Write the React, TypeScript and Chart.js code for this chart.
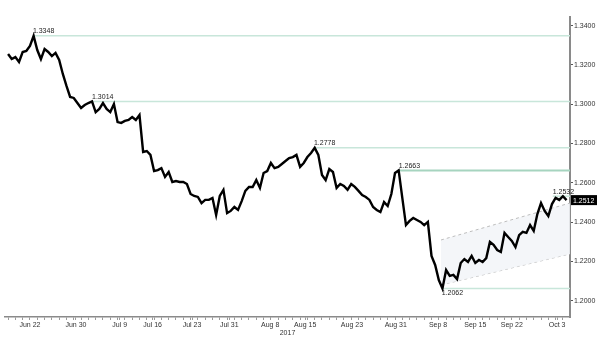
import React, { useEffect, useRef } from "react";
import { Chart, registerables } from "chart.js";

Chart.register(...registerables);

// x unit: trading day, 0 = Jun 22 2017; closes sampled every half trading day
const firstDay = -3;
const dayStep = 0.5;
const closes = [
  1.3256, 1.3230, 1.3240, 1.3215, 1.3266, 1.3271, 1.3297, 1.3348, 1.3276, 1.3230,
  1.3281, 1.3266, 1.3245, 1.3261, 1.3225, 1.3154, 1.3093, 1.3037, 1.3032, 1.3006,
  1.2981, 1.2996, 1.3006, 1.3014, 1.2960, 1.2976, 1.3006, 1.2976, 1.2960, 1.3001,
  1.2909, 1.2905, 1.2915, 1.2920, 1.2935, 1.2920, 1.2945, 1.2757, 1.2762, 1.2742,
  1.2660, 1.2665, 1.2675, 1.2630, 1.2655, 1.2604, 1.2609, 1.2604, 1.2604, 1.2594,
  1.2543, 1.2533, 1.2528, 1.2497, 1.2513, 1.2513, 1.2523, 1.2436, 1.2533, 1.2564,
  1.2446, 1.2457, 1.2477, 1.2462, 1.2507, 1.2559, 1.2579, 1.2579, 1.2614, 1.2574,
  1.2650, 1.2660, 1.2701, 1.2675, 1.2681, 1.2696, 1.2711, 1.2726, 1.2731, 1.2742,
  1.2681, 1.2701, 1.2731, 1.2752, 1.2778, 1.2742, 1.2640, 1.2614, 1.2670, 1.2655,
  1.2574, 1.2594, 1.2584, 1.2564, 1.2594, 1.2579, 1.2559, 1.2538, 1.2528, 1.2513,
  1.2477, 1.2462, 1.2451, 1.2502, 1.2482, 1.2543, 1.2650, 1.2663, 1.2523, 1.2385,
  1.2406, 1.2421, 1.2411, 1.2401, 1.2385, 1.2401, 1.2228, 1.2182, 1.2105, 1.2062,
  1.2156, 1.2126, 1.2131, 1.2110, 1.2192, 1.2212, 1.2197, 1.2228, 1.2192, 1.2207,
  1.2197, 1.2217, 1.2299, 1.2284, 1.2258, 1.2248, 1.2345, 1.2324, 1.2304, 1.2273,
  1.2334, 1.2350, 1.2345, 1.2385, 1.2355, 1.2441, 1.2497, 1.2457, 1.2431, 1.2492,
  1.2523, 1.2513, 1.2532, 1.2512,
];

const xMin = -3.42;
const xMax = 73.97;
const yMin = 1.1917;
const yMax = 1.3444;

const dateLabels = ["Jun 22", "Jun 30", "Jul 9", "Jul 16", "Jul 23", "Jul 31", "Aug 8", "Aug 15", "Aug 23", "Aug 31", "Sep 8", "Sep 15", "Sep 22", "Oct 3"];
const dateLabelDays = [0, 6.3, 12.3, 16.8, 22.2, 27.3, 32.9, 37.7, 44.1, 50.1, 55.9, 61, 66, 72.2];
const minorTickDays = Array.from({ length: 77 }, (_, k) => k - 3);
const yTickValues = [1.2, 1.22, 1.24, 1.26, 1.28, 1.3, 1.32, 1.34];
const yearLabel = "2017";

const levelValues = [1.3348, 1.3014, 1.2778, 1.2663, 1.2062, 1.2532];
const levelStartDays = [0.4, 8.5, 38.9, 50.5, 56.4, 71.6];
const levelLabelBelow = [false, false, false, false, true, false];
const levelStrong = [false, false, false, true, false, false];

const channelDays = [56.3, 73.97];
const channelUpper = [1.2309, 1.2497];
const channelLower = [1.2080, 1.2238];

const FONT = "'Liberation Sans', 'DejaVu Sans', sans-serif";

export default function App() {
  const ref = useRef<HTMLCanvasElement | null>(null);

  useEffect(() => {
    document.body.style.margin = "0";
    const canvas = ref.current;
    if (!canvas) return;

    const priceData = closes.map((c, i) => ({ x: firstDay + dayStep * i, y: c }));
    const levelSets = levelValues.map((v, k) => ({
      type: "line" as const,
      data: [
        { x: levelStartDays[k], y: v },
        { x: xMax, y: v },
      ],
      borderColor: levelStrong[k] ? "#a6d4bf" : "#c8e6da",
      borderWidth: levelStrong[k] ? 2 : 1.5,
      pointRadius: 0,
      fill: false,
      order: 5,
    }));

    const labelPlugin = {
      id: "levelLabels",
      afterDatasetsDraw(chart: any) {
        const { ctx, scales } = chart;
        const xs = scales.x;
        const ys = scales.y;
        ctx.save();
        ctx.font = `7px ${FONT}`;
        ctx.fillStyle = "#222";
        ctx.textAlign = "left";
        levelValues.forEach((v, k) => {
          const px = xs.getPixelForValue(levelStartDays[k]);
          const py = ys.getPixelForValue(v);
          if (levelLabelBelow[k]) {
            ctx.textBaseline = "top";
            ctx.fillText(v.toFixed(4), px, py + 1);
          } else {
            ctx.textBaseline = "bottom";
            ctx.fillText(v.toFixed(4), px, py - 1);
          }
        });
        // last price tag
        const last = closes[closes.length - 1];
        const ty = ys.getPixelForValue(last);
        const tx = chart.chartArea.right + 1;
        ctx.fillStyle = "#000";
        ctx.fillRect(tx, ty - 5, 26, 10);
        ctx.fillStyle = "#fff";
        ctx.textBaseline = "middle";
        ctx.fillText(last.toFixed(4), tx + 2, ty + 0.5);
        ctx.restore();
      },
    };

    const chart = new Chart(canvas, {
      type: "line",
      data: {
        datasets: [
          {
            data: priceData,
            borderColor: "#000",
            borderWidth: 2.4,
            pointRadius: 0,
            tension: 0,
            fill: false,
            order: 0,
          },
          ...levelSets,
          {
            data: [
              { x: channelDays[0], y: channelUpper[0] },
              { x: channelDays[1], y: channelUpper[1] },
            ],
            borderColor: "#bdbdbd",
            borderWidth: 1,
            borderDash: [3, 3],
            pointRadius: 0,
            fill: "+1",
            backgroundColor: "rgba(242,244,248,0.85)",
            order: 8,
          },
          {
            data: [
              { x: channelDays[0], y: channelLower[0] },
              { x: channelDays[1], y: channelLower[1] },
            ],
            borderColor: "#bdbdbd",
            borderWidth: 1,
            borderDash: [3, 3],
            pointRadius: 0,
            fill: false,
            order: 9,
          },
        ] as any,
      },
      options: {
        animation: false,
        responsive: false,
        layout: { padding: { left: 5, top: 17, right: 0, bottom: 0 } },
        plugins: { legend: { display: false }, tooltip: { enabled: false } },
        scales: {
          x: {
            type: "linear",
            min: xMin,
            max: xMax,
            position: "bottom",
            grid: { drawOnChartArea: false, drawTicks: true, tickLength: 3, color: "#9a9a9a", lineWidth: 1 },
            border: { display: true, color: "#8a8a8a", width: 1.5 },
            ticks: {
              autoSkip: false,
              maxRotation: 0,
              padding: 1,
              color: "#333",
              font: { size: 7, family: FONT },
              callback: (v: any) => {
                const k = dateLabelDays.indexOf(Number(v));
                return k >= 0 ? dateLabels[k] : "";
              },
            },
            title: { display: true, text: yearLabel, color: "#333", font: { size: 7, family: FONT }, padding: { top: 0, bottom: 3 } },
            afterBuildTicks: (scale: any) => {
              const vals = [...minorTickDays.filter((d) => !dateLabelDays.includes(d)), ...dateLabelDays].sort((a, b) => a - b);
              scale.ticks = vals.map((value) => ({ value }));
            },
            afterFit: (scale: any) => {
              scale.height = 23;
            },
          },
          y: {
            type: "linear",
            position: "right",
            min: yMin,
            max: yMax,
            grid: { drawOnChartArea: false, drawTicks: true, tickLength: 3, color: "#555" },
            border: { display: true, color: "#8a8a8a", width: 2 },
            ticks: {
              padding: 1,
              color: "#333",
              font: { size: 7, family: FONT },
              callback: (v: any) => Number(v).toFixed(4),
            },
            afterBuildTicks: (scale: any) => {
              scale.ticks = yTickValues.map((value) => ({ value }));
            },
            afterFit: (scale: any) => {
              scale.width = 30;
            },
          },
        },
      },
      plugins: [labelPlugin],
    });

    return () => chart.destroy();
  }, []);

  return <canvas ref={ref} width={600} height={340} style={{ display: "block" }} />;
}
